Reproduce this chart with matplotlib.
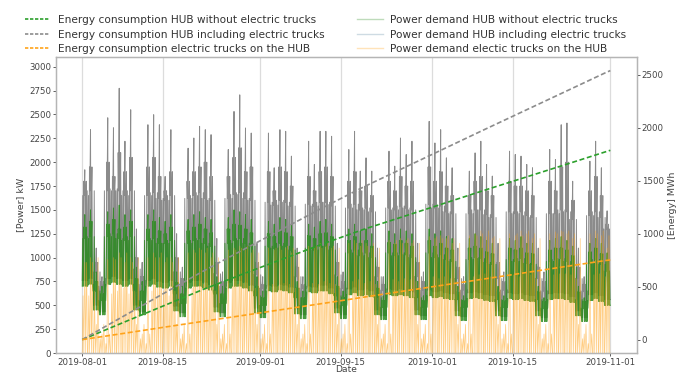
import datetime as dt
import matplotlib
matplotlib.use("Agg")
import matplotlib.pyplot as plt
import matplotlib.dates as mdates
from matplotlib.lines import Line2D

# ---------------- data ----------------
start_date = dt.datetime(2019, 8, 1)

# cumulative energy [MWh], sampled weekly (day offsets from 2019-08-01)
energy_days = [0, 7, 14, 21, 28, 35, 42, 49, 56, 63, 70, 77, 84, 91, 92]
energy_hub = [0, 158, 315, 472, 619, 762, 905, 1040, 1162, 1285, 1408, 1528, 1648, 1769, 1786]
energy_trucks = [0, 57, 115, 172, 228, 285, 342, 400, 458, 515, 572, 630, 688, 745, 752]
energy_total = [0, 215, 430, 644, 847, 1047, 1247, 1440, 1620, 1800, 1980, 2158, 2336, 2514, 2538]

# daily power levels [kW] (one value per day, 2019-08-01 .. 2019-10-31)
total_peak = [1920, 2340, 1100, 800, 2465, 2360, 2774, 2219, 2549, 1300, 950,
              2392, 2497, 2392, 1850, 2340, 1250, 900, 2146, 2253, 2375, 2340,
              2288, 1200, 850, 2132, 2531, 2705, 2358, 2305, 1150, 800, 2305,
              1941, 2340, 2323, 2063, 1100, 800, 2219, 1976, 2323, 2323, 2271,
              1150, 850, 2132, 2323, 1906, 2045, 1906, 1100, 800, 2115, 1958,
              2253, 2080, 2219, 1150, 850, 2427, 2201, 2340, 2045, 1941, 1100,
              800, 1906, 2097, 2219, 1976, 1854, 1150, 850, 2115, 2080, 2063,
              1976, 1941, 1100, 850, 2132, 2028, 2392, 2410, 1800, 1100, 800,
              2010, 2219, 1941, 1490]
total_mid = [1800, 1950, 950, 750, 2000, 1850, 2100, 1900, 2050, 1000, 800,
             1950, 2050, 1850, 1700, 1900, 1000, 780, 1800, 1900, 1950, 2000,
             1850, 950, 750, 1850, 2050, 2150, 1900, 1950, 950, 720, 1900,
             1700, 1950, 1900, 1750, 900, 720, 1850, 1700, 1900, 1950, 1850,
             950, 750, 1800, 1900, 1700, 1750, 1650, 900, 720, 1800, 1700,
             1850, 1750, 1800, 950, 750, 1950, 1800, 1900, 1750, 1650, 900,
             720, 1650, 1800, 1850, 1700, 1650, 950, 750, 1800, 1750, 1750,
             1700, 1650, 900, 750, 1800, 1700, 1950, 2000, 1600, 900, 720,
             1700, 1850, 1650, 1350]
total_high = [1650, 1700, 850, 700, 1700, 1720, 1700, 1650, 1700, 880, 720,
              1650, 1680, 1620, 1600, 1650, 850, 700, 1620, 1650, 1680, 1620,
              1600, 830, 700, 1620, 1660, 1680, 1620, 1600, 820, 680, 1580,
              1550, 1600, 1580, 1540, 800, 680, 1560, 1540, 1580, 1580, 1540,
              820, 680, 1520, 1560, 1500, 1520, 1480, 800, 660, 1520, 1500,
              1540, 1520, 1500, 800, 660, 1560, 1520, 1540, 1480, 1460, 780,
              660, 1460, 1500, 1500, 1450, 1420, 780, 660, 1480, 1460, 1480,
              1440, 1420, 780, 650, 1460, 1460, 1500, 1480, 1400, 780, 650,
              1440, 1480, 1420, 1300]
total_low = [760, 780, 500, 430, 780, 800, 780, 760, 780, 500, 430,
             760, 780, 750, 740, 760, 490, 420, 740, 760, 760, 740,
             720, 480, 420, 740, 760, 760, 740, 710, 470, 410, 710,
             700, 720, 710, 690, 460, 400, 700, 690, 710, 710, 680,
             470, 400, 670, 690, 660, 670, 650, 450, 390, 670, 660,
             670, 660, 640, 450, 390, 660, 640, 650, 630, 620, 440,
             380, 630, 640, 630, 610, 600, 440, 380, 630, 620, 630,
             610, 600, 440, 370, 620, 630, 630, 620, 590, 440, 370,
             610, 630, 600, 560]

hub_peak = [1450, 1500, 850, 700, 1480, 1520, 1550, 1450, 1500, 900, 750,
            1450, 1500, 1420, 1380, 1450, 850, 700, 1400, 1450, 1480, 1420,
            1400, 800, 700, 1420, 1500, 1480, 1450, 1400, 800, 650, 1380,
            1350, 1420, 1400, 1350, 750, 650, 1350, 1320, 1380, 1400, 1350,
            800, 650, 1300, 1350, 1280, 1300, 1250, 750, 600, 1280, 1250,
            1300, 1280, 1250, 750, 600, 1300, 1250, 1280, 1220, 1200, 700,
            600, 1200, 1250, 1220, 1180, 1150, 700, 600, 1200, 1180, 1220,
            1150, 1150, 700, 580, 1180, 1200, 1220, 1180, 1120, 700, 580,
            1150, 1200, 1150, 1050]
hub_mid = [1320, 1380, 750, 620, 1350, 1400, 1300, 1320, 1380, 780, 650,
           1300, 1380, 1280, 1250, 1320, 740, 620, 1280, 1320, 1350, 1300,
           1260, 720, 620, 1300, 1350, 1340, 1300, 1260, 700, 580, 1250,
           1220, 1280, 1260, 1220, 680, 580, 1230, 1200, 1250, 1260, 1220,
           700, 580, 1180, 1220, 1150, 1180, 1120, 680, 550, 1160, 1140,
           1180, 1150, 1120, 680, 550, 1180, 1120, 1150, 1100, 1080, 640,
           550, 1100, 1120, 1100, 1060, 1040, 640, 550, 1100, 1080, 1100,
           1050, 1040, 640, 540, 1080, 1100, 1100, 1080, 1020, 640, 540,
           1060, 1100, 1040, 960]
hub_high = [1200, 1220, 650, 550, 1220, 1250, 1200, 1180, 1220, 650, 550,
            1180, 1200, 1150, 1150, 1180, 620, 520, 1150, 1180, 1200, 1150,
            1120, 620, 520, 1150, 1180, 1200, 1150, 1120, 600, 500, 1120,
            1100, 1150, 1120, 1080, 580, 500, 1100, 1080, 1120, 1120, 1080,
            600, 500, 1050, 1080, 1020, 1050, 1000, 580, 480, 1050, 1020,
            1050, 1030, 1000, 580, 480, 1050, 1000, 1030, 980, 960, 560,
            480, 980, 1000, 990, 950, 930, 560, 480, 980, 960, 990,
            940, 930, 560, 470, 960, 980, 990, 960, 900, 560, 470,
            940, 980, 930, 860]
hub_low = [700, 720, 450, 400, 720, 740, 720, 700, 720, 450, 400,
           700, 720, 690, 680, 700, 440, 380, 680, 700, 700, 680,
           660, 430, 380, 680, 700, 700, 680, 650, 420, 370, 650,
           640, 660, 650, 630, 410, 360, 640, 630, 650, 650, 620,
           420, 360, 610, 630, 600, 610, 590, 400, 350, 610, 600,
           610, 600, 580, 400, 350, 600, 580, 590, 570, 560, 390,
           340, 570, 580, 570, 550, 540, 390, 340, 570, 560, 570,
           550, 540, 390, 330, 560, 570, 570, 560, 530, 390, 330,
           550, 570, 540, 500]

trucks_peak = [950, 1000, 300, 200, 980, 1000, 1050, 950, 1000, 300, 200,
               1000, 1050, 1000, 950, 1000, 300, 200, 1050, 1080, 1100, 1050,
               1000, 300, 200, 1080, 1100, 1120, 1080, 1050, 300, 200, 1100,
               1080, 1120, 1100, 1050, 300, 200, 1120, 1100, 1150, 1120, 1100,
               300, 200, 1150, 1180, 1120, 1150, 1100, 300, 200, 1180, 1150,
               1200, 1180, 1150, 300, 200, 1220, 1200, 1230, 1200, 1150, 300,
               200, 1230, 1250, 1280, 1220, 1200, 300, 200, 1250, 1230, 1280,
               1250, 1200, 300, 200, 1250, 1270, 1280, 1250, 1200, 300, 200,
               1250, 1280, 1230, 1100]
trucks_high = [600, 650, 150, 100, 620, 650, 680, 620, 650, 150, 100,
               650, 680, 650, 600, 650, 150, 100, 680, 700, 720, 680,
               650, 150, 100, 700, 720, 730, 700, 680, 150, 100, 720,
               700, 730, 720, 680, 150, 100, 730, 720, 750, 730, 720,
               150, 100, 750, 770, 730, 750, 720, 150, 100, 770, 750,
               780, 770, 750, 150, 100, 800, 780, 800, 780, 750, 150,
               100, 800, 820, 830, 800, 780, 150, 100, 820, 800, 830,
               820, 780, 150, 100, 820, 830, 830, 820, 780, 150, 100,
               820, 830, 800, 720]
trucks_low = [0] * 92

x_tick_dates = ["2019-08-01", "2019-08-15", "2019-09-01", "2019-09-15",
                "2019-10-01", "2019-10-15", "2019-11-01"]
power_ticks = list(range(0, 3001, 250))
energy_ticks = list(range(0, 2501, 500))

# ---------------- layout of the daily levels along each day ----------------
base = mdates.date2num(start_date)


def daily_profile(levels_by_key, pattern):
    """pattern: (offset within day, level key); suffix '-'/'+' = prev/next day."""
    xs, ys = [], []
    low = levels_by_key["l"]
    n = len(low)
    for d in range(n):
        for o, k in pattern:
            if k.endswith("-"):
                v = levels_by_key[k[:-1]][max(d - 1, 0)]
            elif k.endswith("+"):
                v = levels_by_key[k[:-1]][min(d + 1, n - 1)]
            else:
                v = levels_by_key[k][d]
            xs.append(base + d + o)
            ys.append(v)
    xs.append(base + n)
    ys.append(low[-1])
    return xs, ys


dense = [(0.00, "l"), (0.09, "h-"), (0.17, "l"), (0.26, "m"), (0.33, "h"),
         (0.44, "p"), (0.52, "l"), (0.61, "h"), (0.69, "m"), (0.77, "l"),
         (0.86, "h+"), (0.94, "l")]
sparse = [(0.00, "l"), (0.14, "h-"), (0.28, "l"), (0.45, "p"), (0.60, "l"),
          (0.76, "p-"), (0.90, "l")]

# ---------------- figure ----------------
fig = plt.figure(figsize=(6.81, 3.76), dpi=100)
ax = fig.add_axes([0.082, 0.061, 0.853, 0.787])
ax2 = ax.twinx()

c_grey = "#777777"
c_green = "#2a8a1e"
c_orange = "#ffa31a"

xg, yg = daily_profile({"l": total_low, "h": total_high, "m": total_mid,
                        "p": total_peak}, dense)
xh, yh = daily_profile({"l": hub_low, "h": hub_high, "m": hub_mid,
                        "p": hub_peak}, dense)
xt, yt = daily_profile({"l": trucks_low, "h": trucks_high,
                        "p": trucks_peak}, sparse)

ax.plot(xg, yg, color=c_grey, lw=0.7, alpha=0.85)
ax.plot(xh, yh, color=c_green, lw=0.7, alpha=0.85)
ax.plot(xt, yt, color=c_orange, lw=0.5, alpha=0.55)

ex = [base + d for d in energy_days]
ax2.plot(ex, energy_hub, color="#2ca02c", lw=1.2, ls=(0, (3, 1.6)))
ax2.plot(ex, energy_total, color="#8c8c8c", lw=1.2, ls=(0, (3, 1.6)))
ax2.plot(ex, energy_trucks, color="#ffa31a", lw=1.2, ls=(0, (3, 1.6)))

ax.set_ylim(0, 3100)
ax.set_yticks(power_ticks)
ax2.set_yticks(energy_ticks)
ticks = [mdates.date2num(dt.datetime.strptime(s, "%Y-%m-%d")) for s in x_tick_dates]
ax.set_xticks(ticks)
ax.set_xticklabels(x_tick_dates)
ax.grid(axis="x", color="#dcdcdc", lw=0.9)
ax.set_axisbelow(True)

for a in (ax, ax2):
    a.tick_params(labelsize=6.2, colors="#444444", length=2, width=0.6, pad=1.5)
    for sp in a.spines.values():
        sp.set_color("#b5b5b5")
        sp.set_linewidth(0.9)

ax.set_ylabel("[Power] kW", fontsize=6.8, color="#444444", labelpad=3)
ax2.set_ylabel("[Energy] MWh", fontsize=6.8, color="#444444", labelpad=3)
ax.set_xlabel("Date", fontsize=6.6, color="#444444")
ax.xaxis.set_label_coords(0.5, -0.042)

handles = [
    Line2D([], [], color="#2ca02c", lw=1.2, ls=(0, (2, 1))),
    Line2D([], [], color="#8c8c8c", lw=1.2, ls=(0, (2, 1))),
    Line2D([], [], color="#ffa31a", lw=1.2, ls=(0, (2, 1))),
    Line2D([], [], color=c_green, lw=1.0, alpha=0.3),
    Line2D([], [], color="#9fb8c8", lw=1.0, alpha=0.5),
    Line2D([], [], color=c_orange, lw=1.0, alpha=0.3),
]
labels = [
    "Energy consumption HUB without electric trucks",
    "Energy consumption HUB including electric trucks",
    "Energy consumption electric trucks on the HUB",
    "Power demand HUB without electric trucks",
    "Power demand HUB including electric trucks",
    "Power demand electic trucks on the HUB",
]
fig.legend(handles, labels, loc="upper left", bbox_to_anchor=(0.023, 0.985),
           ncol=2, frameon=False, fontsize=7.6, labelspacing=0.42,
           columnspacing=3.1, handlelength=2.4, handletextpad=0.7,
           labelcolor="#333333")

fig.savefig("out.png", dpi=100)
